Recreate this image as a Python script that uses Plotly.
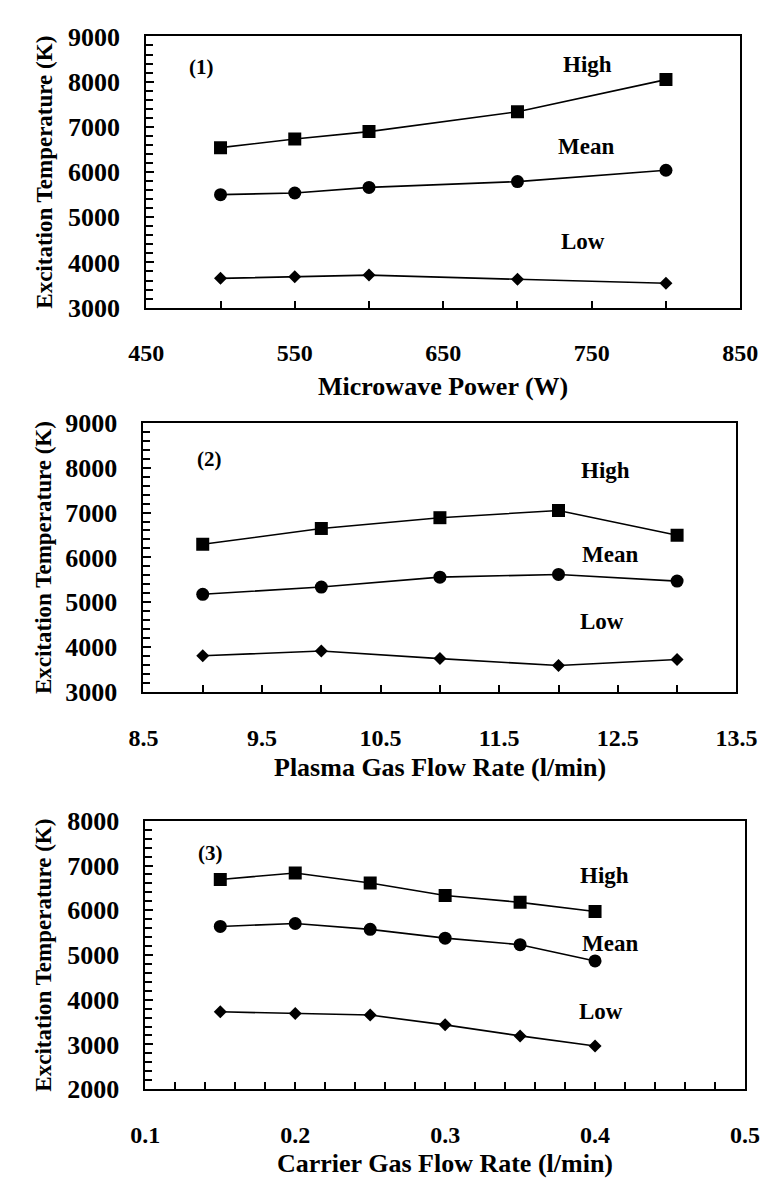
import plotly.graph_objects as go

# Panel (1): excitation temperature vs microwave power
power_w = [500, 550, 600, 700, 800]
power_high = [6540, 6730, 6895, 7333, 8045]
power_mean = [5500, 5537, 5660, 5789, 6040]
power_low = [3648, 3684, 3720, 3627, 3540]

# Panel (2): excitation temperature vs plasma gas flow rate
plasma_flow = [9, 10, 11, 12, 13]
plasma_high = [6292, 6645, 6885, 7046, 6495]
plasma_mean = [5178, 5340, 5560, 5620, 5472]
plasma_low = [3808, 3913, 3745, 3590, 3725]

# Panel (3): excitation temperature vs carrier gas flow rate
carrier_flow = [0.15, 0.20, 0.25, 0.30, 0.35, 0.40]
carrier_high = [6688, 6834, 6608, 6331, 6177, 5974]
carrier_mean = [5638, 5704, 5573, 5376, 5230, 4866]
carrier_low = [3729, 3692, 3656, 3437, 3190, 2964]

series_names = ["High", "Mean", "Low"]
panel_tags = ["(1)", "(2)", "(3)"]
x_titles = ["Microwave Power (W)", "Plasma Gas Flow Rate (l/min)", "Carrier Gas Flow Rate (l/min)"]
y_title = "Excitation Temperature (K)"

W, H = 784, 1189
FONT = "Liberation Serif, Times New Roman, serif"
BLACK = "#000000"

panels = [
    dict(x=power_w, ys=[power_high, power_mean, power_low],
         xr=[450, 850], xt0=450, xdt=100, xminor=50, xfmt="d",
         yr=[3000, 9000],
         box=(135, 760, 23, 301), title_gap=81,
         lab_pos=[(747, 8370), (746, 6570), (744, 4474)], tag_pos=(487, 8318)),
    dict(x=plasma_flow, ys=[plasma_high, plasma_mean, plasma_low],
         xr=[8.5, 13.5], xt0=8.5, xdt=1, xminor=0.5, xfmt=".1f",
         yr=[3000, 9000],
         box=(132, 756, 419, 695), title_gap=77,
         lab_pos=[(12.40, 7932), (12.43, 6072), (12.37, 4564)], tag_pos=(9.06, 8184)),
    dict(x=carrier_flow, ys=[carrier_high, carrier_mean, carrier_low],
         xr=[0.1, 0.5], xt0=0.1, xdt=0.1, xminor=0.02, xfmt=".1f",
         yr=[2000, 8000],
         box=(134, 765, 827, 1102), title_gap=76,
         lab_pos=[(0.4065, 6776), (0.4097, 5259), (0.4043, 3729)], tag_pos=(0.1434, 7286)),
]

symbols = ["square", "circle", "diamond"]
sizes = [13, 13, 10]

fig = go.Figure()
annotations = []
layout_axes = {}

for i, p in enumerate(panels, start=1):
    xa = "x" if i == 1 else f"x{i}"
    ya = "y" if i == 1 else f"y{i}"
    left, right, top, bottom = p["box"]

    for name, ys, sym, sz in zip(series_names, p["ys"], symbols, sizes):
        fig.add_trace(go.Scatter(
            x=p["x"], y=ys, mode="lines+markers", name=name,
            line=dict(color=BLACK, width=1.6),
            marker=dict(symbol=sym, size=sz, color=BLACK),
            xaxis=xa, yaxis=ya, showlegend=False,
        ))

    layout_axes[f"xaxis{'' if i == 1 else i}"] = dict(
        domain=[left / W, right / W], anchor=ya,
        range=p["xr"], tick0=p["xt0"], dtick=p["xdt"], tickformat=p["xfmt"],
        showgrid=False, zeroline=False,
        showline=True, linecolor=BLACK, linewidth=2, mirror=True,
        ticks="inside", ticklen=7, tickwidth=1.5, tickcolor=BLACK,
        minor=dict(dtick=p["xminor"], tick0=p["xt0"], ticks="inside",
                   ticklen=7, tickwidth=1.5, tickcolor=BLACK, showgrid=False),
        tickfont=dict(family=FONT, size=24, color=BLACK, weight="bold"),
        ticklabelstandoff=23,
    )
    layout_axes[f"yaxis{'' if i == 1 else i}"] = dict(
        domain=[1 - bottom / H, 1 - top / H], anchor=xa,
        range=p["yr"], dtick=1000, tickformat="d",
        showgrid=False, zeroline=False,
        showline=True, linecolor=BLACK, linewidth=2, mirror=True,
        ticks="inside", ticklen=8, tickwidth=1.5, tickcolor=BLACK,
        minor=dict(dtick=200, ticks="inside", ticklen=7, tickwidth=1.5,
                   tickcolor=BLACK, showgrid=False),
        tickfont=dict(family=FONT, size=26, color=BLACK, weight="bold"),
        ticklabelstandoff=19,
    )

    # series labels and panel tag inside the plot area
    for name, (lx, ly) in zip(series_names, p["lab_pos"]):
        annotations.append(dict(
            x=lx, y=ly, xref=xa, yref=ya, text=name, showarrow=False,
            font=dict(family=FONT, size=23, color=BLACK, weight="bold"),
        ))
    tx, ty = p["tag_pos"]
    annotations.append(dict(
        x=tx, y=ty, xref=xa, yref=ya, text=panel_tags[i - 1], showarrow=False,
        font=dict(family=FONT, size=21, color=BLACK, weight="bold"),
    ))

    # axis titles
    annotations.append(dict(
        x=(left + right) / 2 / W, y=1 - (bottom + p["title_gap"]) / H,
        xref="paper", yref="paper",
        text=x_titles[i - 1], showarrow=False, xanchor="center", yanchor="middle",
        font=dict(family=FONT, size=26, color=BLACK, weight="bold"),
    ))
    annotations.append(dict(
        x=27 / W, y=1 - (top + bottom) / 2 / H, xref="paper", yref="paper",
        text=y_title, showarrow=False, textangle=-90, xanchor="center", yanchor="middle",
        font=dict(family=FONT, size=23, color=BLACK, weight="bold"),
    ))

fig.update_layout(
    width=W, height=H,
    margin=dict(l=0, r=0, t=0, b=0),
    paper_bgcolor="white", plot_bgcolor="white",
    annotations=annotations,
    **layout_axes,
)

fig.write_html("out.html")
